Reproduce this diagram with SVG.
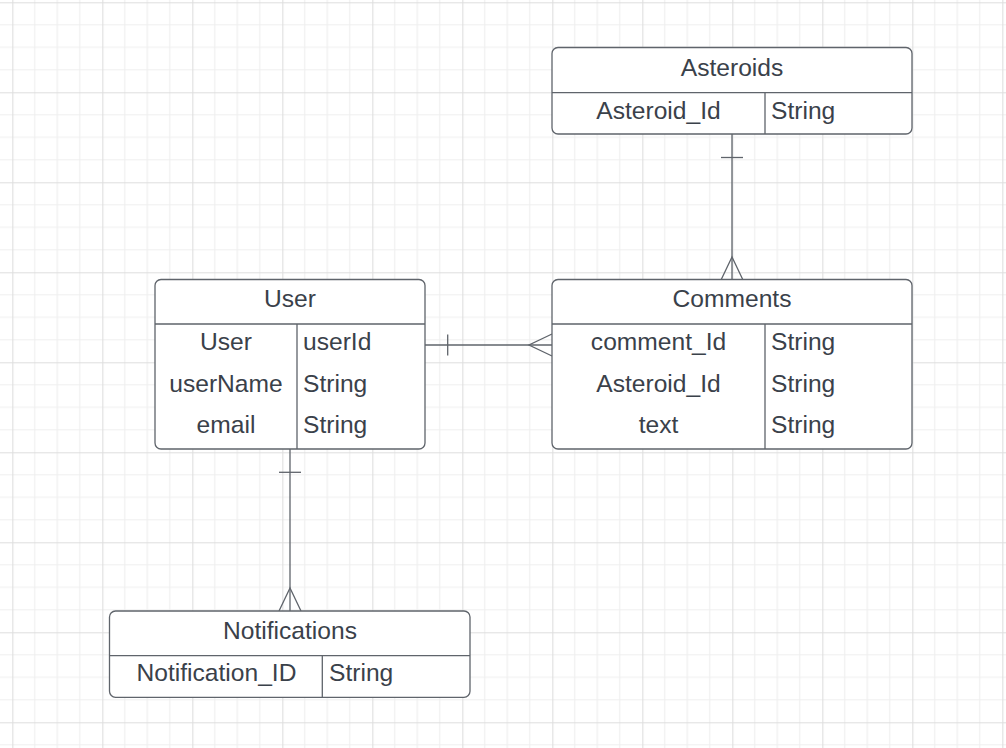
<svg xmlns="http://www.w3.org/2000/svg" width="1006" height="748" viewBox="0 0 1006 748">
<style>
.box{fill:#ffffff;stroke:#5f646b;stroke-width:1.3}
.ln{stroke:#5f646b;stroke-width:1.3;fill:none}
.cn{stroke:#5f646b;stroke-width:1.3;fill:none}
text{font-family:"Liberation Sans",Arial,sans-serif;font-size:24.6px;fill:#3a414a}
.c{text-anchor:middle}
</style>
<defs>
<pattern id="grid" patternUnits="userSpaceOnUse" x="12.3" y="2.3" width="90" height="90">
<path d="M22.5 0V90M45 0V90M67.5 0V90M0 22.5H90M0 45H90M0 67.5H90" stroke="#efefef" stroke-width="1.2" fill="none"/>
<path d="M0.5 0V90M0 0.5H90" stroke="#dedede" stroke-width="1.2" fill="none"/>
</pattern>
</defs>
<rect width="1006" height="748" fill="#ffffff"/>
<rect width="1006" height="748" fill="url(#grid)"/>

<g id="connectors">
<!-- Asteroids to Comments -->
<path class="cn" d="M732 134V280"/>
<path class="cn" d="M721 157.5H743"/>
<path class="cn" d="M721 280L732 257L743 280"/>
<!-- User to Comments -->
<path class="cn" d="M425 345H552"/>
<path class="cn" d="M447.7 334.5V355.5"/>
<path class="cn" d="M552 334L529 345L552 356"/>
<!-- User to Notifications -->
<path class="cn" d="M290 449V611"/>
<path class="cn" d="M279 472.3H301"/>
<path class="cn" d="M279 611L290 588L301 611"/>
</g>

<g id="asteroids">
<rect class="box" x="552" y="47.5" width="360" height="86.5" rx="6"/>
<path class="ln" d="M552 92.7H912M765 92.7V134"/>
<text class="c" x="732" y="75.5">Asteroids</text>
<text class="c" x="658.5" y="119">Asteroid_Id</text>
<text x="771" y="119">String</text>
</g>

<g id="user">
<rect class="box" x="155" y="279.5" width="270" height="169.5" rx="6"/>
<path class="ln" d="M155 324H425M297 324V449"/>
<text class="c" x="290" y="306.5">User</text>
<text class="c" x="226" y="350">User</text>
<text x="303" y="350">userId</text>
<text class="c" x="226" y="391.7">userName</text>
<text x="303" y="391.7">String</text>
<text class="c" x="226" y="433.3">email</text>
<text x="303" y="433.3">String</text>
</g>

<g id="comments">
<rect class="box" x="552" y="279.5" width="360" height="169.5" rx="6"/>
<path class="ln" d="M552 324H912M765 324V449"/>
<text class="c" x="732" y="306.5">Comments</text>
<text class="c" x="658.5" y="350">comment_Id</text>
<text x="771" y="350">String</text>
<text class="c" x="658.5" y="391.7">Asteroid_Id</text>
<text x="771" y="391.7">String</text>
<text class="c" x="658.5" y="433.3">text</text>
<text x="771" y="433.3">String</text>
</g>

<g id="notifications">
<rect class="box" x="109.5" y="611" width="360.5" height="86.3" rx="6"/>
<path class="ln" d="M109.5 655.7H470M322.3 655.7V697.3"/>
<text class="c" x="290" y="638.5">Notifications</text>
<text class="c" x="216.5" y="681">Notification_ID</text>
<text x="329" y="681">String</text>
</g>
</svg>
